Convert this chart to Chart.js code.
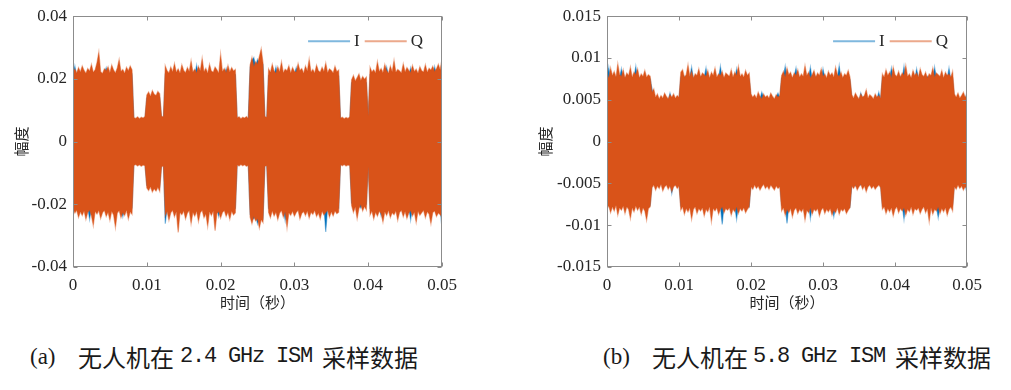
<!DOCTYPE html>
<html>
<head>
<meta charset="utf-8">
<script src="https://cdn.jsdelivr.net/npm/chart.js@4.4.0/dist/chart.umd.min.js"></script>
<style>
  body { margin: 0; background: #fff; width: 1011px; height: 390px; position: relative; overflow: hidden; }
  .box { position: absolute; top: 0; }
  .cap { position: absolute; top: 344px; height: 26px; line-height: 26px; color: #1a1a1a; white-space: nowrap; }
  .zh { font-family: "Noto Sans CJK SC"; font-size: 24px; }
  .mono { font-family: "Liberation Mono"; font-size: 22px; letter-spacing: -1.2px; }
  .par { font-family: "Liberation Serif"; font-size: 23px; }
</style>
</head>
<body>
<div class="box" style="left:0"><canvas id="chartA" width="470" height="320"></canvas></div>
<div class="box" style="left:520px"><canvas id="chartB" width="491" height="320"></canvas></div>

<span class="cap par" style="left:30px">(a)</span>
<span class="cap zh" style="left:78px">无人机在</span>
<span class="cap mono" style="left:180px">2.4 GHz ISM</span>
<span class="cap zh" style="left:322px">采样数据</span>

<span class="cap par" style="left:603px">(b)</span>
<span class="cap zh" style="left:652px">无人机在</span>
<span class="cap mono" style="left:753px">5.8 GHz ISM</span>
<span class="cap zh" style="left:895px">采样数据</span>

<script>
// spacing of the envelope readings (seconds)
const binWidth = 0.00025;

const xTicks = [0, 0.01, 0.02, 0.03, 0.04, 0.05];
const xTickLabels = ['0', '0.01', '0.02', '0.03', '0.04', '0.05'];
const yTicksA = [-0.04, -0.02, 0, 0.02, 0.04];
const yTickLabelsA = ['-0.04', '-0.02', '0', '0.02', '0.04'];
const yTicksB = [-0.015, -0.01, -0.005, 0, 0.005, 0.01, 0.015];
const yTickLabelsB = ['-0.015', '-0.01', '-0.005', '0', '0.005', '0.01', '0.015'];
const seriesNames = ['I', 'Q'];

// (a) 2.4 GHz: upper / lower envelope per bin
const qUpperA = [
  0.0224,0.0231,0.0219,0.0236,0.0222,0.0241,0.0227,0.0218,0.0233,0.0225,0.0246,0.0221,0.0229,0.0252,0.0286,0.0223,0.0217,0.0232,0.0226,0.0239,0.0220,0.0244,0.0228,0.0219,0.0235,0.0262,0.0224,0.0230,0.0218,0.0237,0.0226,0.0241,0.0229,
  0.0077,0.0074,0.0079,0.0073,0.0078,0.0075,0.0080,
  0.0149,0.0158,0.0145,0.0163,0.0151,0.0147,0.0160,0.0153,
  0.0081,0.0079,
  0.0242,0.0226,0.0219,0.0238,0.0223,0.0249,0.0221,0.0232,0.0218,0.0245,0.0227,0.0220,0.0236,0.0224,0.0258,0.0222,0.0231,0.0219,0.0240,0.0226,0.0266,0.0223,0.0234,0.0218,0.0247,0.0225,0.0221,0.0238,0.0229,0.0219,0.0279,0.0224,0.0233,0.0220,0.0243,0.0222,0.0236,0.0225,0.0230,
  0.0076,0.0079,0.0073,0.0078,0.0075,0.0080,0.0074,
  0.0244,0.0268,0.0239,0.0255,0.0247,0.0272,0.0296,0.0251,
  0.0080,0.0078,
  0.0232,0.0221,0.0247,0.0225,0.0218,0.0239,0.0223,0.0254,0.0220,0.0231,0.0226,0.0242,0.0219,0.0236,0.0224,0.0221,0.0249,0.0227,0.0233,0.0218,0.0241,0.0225,0.0263,0.0222,0.0230,0.0219,0.0244,0.0226,0.0221,0.0237,0.0224,0.0251,0.0220,0.0232,0.0227,0.0219,0.0240,0.0223,0.0228,
  0.0075,0.0078,0.0073,0.0077,0.0074,0.0079,
  0.0197,0.0211,0.0193,0.0204,0.0216,0.0195,0.0208,0.0199,0.0206,
  0.0082,
  0.0237,0.0222,0.0229,0.0219,0.0255,0.0224,0.0233,0.0220,0.0246,0.0226,0.0218,0.0241,0.0223,0.0259,0.0221,0.0230,0.0225,0.0219,0.0248,0.0222,0.0236,0.0227,0.0220,0.0243,0.0224,0.0231,0.0218,0.0239,0.0226,0.0222,0.0245,0.0221,0.0234,0.0228,0.0240,0.0223,0.0232,0.0247,0.0229,0.0264];
const qLowerA = [
  -0.0213,-0.0228,-0.0219,-0.0242,-0.0224,-0.0236,-0.0221,-0.0248,-0.0226,-0.0218,-0.0237,-0.0268,-0.0223,-0.0231,-0.0220,-0.0245,-0.0227,-0.0219,-0.0239,-0.0225,-0.0251,-0.0222,-0.0234,-0.0274,-0.0228,-0.0220,-0.0243,-0.0226,-0.0236,-0.0219,-0.0247,-0.0224,-0.0232,
  -0.0076,-0.0073,-0.0078,-0.0074,-0.0079,-0.0075,-0.0077,
  -0.0148,-0.0156,-0.0144,-0.0161,-0.0150,-0.0158,-0.0146,-0.0159,
  -0.0080,-0.0078,
  -0.0236,-0.0223,-0.0251,-0.0227,-0.0219,-0.0240,-0.0224,-0.0290,-0.0226,-0.0233,-0.0221,-0.0247,-0.0228,-0.0220,-0.0262,-0.0225,-0.0238,-0.0222,-0.0255,-0.0227,-0.0219,-0.0243,-0.0231,-0.0271,-0.0224,-0.0236,-0.0221,-0.0284,-0.0229,-0.0223,-0.0244,-0.0226,-0.0220,-0.0239,-0.0225,-0.0248,-0.0222,-0.0234,-0.0227,
  -0.0075,-0.0078,-0.0073,-0.0077,-0.0074,-0.0079,-0.0076,
  -0.0241,-0.0262,-0.0238,-0.0253,-0.0246,-0.0276,-0.0249,-0.0258,
  -0.0079,-0.0077,
  -0.0226,-0.0243,-0.0221,-0.0237,-0.0225,-0.0249,-0.0228,-0.0220,-0.0241,-0.0224,-0.0275,-0.0227,-0.0235,-0.0222,-0.0238,-0.0226,-0.0219,-0.0247,-0.0229,-0.0223,-0.0236,-0.0221,-0.0244,-0.0225,-0.0232,-0.0220,-0.0239,-0.0228,-0.0246,-0.0222,-0.0234,-0.0226,-0.0219,-0.0241,-0.0224,-0.0237,-0.0221,-0.0230,-0.0225,
  -0.0074,-0.0077,-0.0073,-0.0078,-0.0075,-0.0076,
  -0.0204,-0.0226,-0.0209,-0.0246,-0.0213,-0.0201,-0.0221,-0.0207,-0.0218,
  -0.0080,
  -0.0234,-0.0221,-0.0247,-0.0225,-0.0238,-0.0222,-0.0229,-0.0257,-0.0224,-0.0236,-0.0220,-0.0242,-0.0227,-0.0233,-0.0221,-0.0251,-0.0226,-0.0219,-0.0240,-0.0223,-0.0245,-0.0228,-0.0220,-0.0237,-0.0225,-0.0258,-0.0222,-0.0235,-0.0227,-0.0219,-0.0243,-0.0224,-0.0231,-0.0262,-0.0226,-0.0221,-0.0239,-0.0228,-0.0233,-0.0241];
const iUpperA = [
  0.0212,0.0241,0.0208,0.0216,0.0210,0.0219,0.0213,0.0207,0.0215,0.0211,0.0218,0.0209,0.0214,0.0217,0.0210,0.0206,0.0213,0.0219,0.0236,0.0211,0.0216,0.0208,0.0214,0.0210,0.0217,0.0212,0.0209,0.0215,0.0211,0.0218,0.0213,0.0208,0.0214,
  0.0070,0.0072,0.0068,0.0071,0.0069,0.0073,0.0070,
  0.0139,0.0145,0.0137,0.0142,0.0140,0.0138,0.0144,0.0141,
  0.0072,0.0071,
  0.0214,0.0209,0.0217,0.0211,0.0215,0.0208,0.0213,0.0216,0.0210,0.0212,0.0207,0.0215,0.0211,0.0218,0.0209,0.0214,0.0212,0.0244,0.0210,0.0216,0.0208,0.0213,0.0211,0.0215,0.0209,0.0217,0.0212,0.0210,0.0214,0.0208,0.0216,0.0211,0.0213,0.0233,0.0210,0.0215,0.0209,0.0212,0.0214,
  0.0069,0.0071,0.0068,0.0072,0.0070,0.0069,0.0071,
  0.0236,0.0259,0.0268,0.0241,0.0262,0.0250,0.0255,0.0246,
  0.0071,0.0070,
  0.0211,0.0215,0.0209,0.0213,0.0238,0.0210,0.0216,0.0208,0.0214,0.0212,0.0217,0.0209,0.0213,0.0211,0.0215,0.0236,0.0210,0.0214,0.0208,0.0216,0.0212,0.0209,0.0215,0.0211,0.0213,0.0210,0.0217,0.0208,0.0214,0.0212,0.0216,0.0209,0.0213,0.0211,0.0215,0.0210,0.0212,0.0214,0.0209,
  0.0069,0.0071,0.0068,0.0070,0.0072,0.0069,
  0.0188,0.0194,0.0186,0.0191,0.0189,0.0187,0.0193,0.0190,0.0188,
  0.0073,
  0.0213,0.0210,0.0216,0.0209,0.0214,0.0211,0.0215,0.0208,0.0213,0.0238,0.0210,0.0216,0.0212,0.0209,0.0215,0.0211,0.0214,0.0208,0.0213,0.0210,0.0217,0.0212,0.0235,0.0209,0.0214,0.0211,0.0216,0.0210,0.0213,0.0208,0.0215,0.0212,0.0209,0.0214,0.0211,0.0239,0.0213,0.0210,0.0216,0.0226];
const iLowerA = [
  -0.0206,-0.0213,-0.0209,-0.0215,-0.0211,-0.0217,-0.0208,-0.0214,-0.0210,-0.0248,-0.0212,-0.0216,-0.0209,-0.0213,-0.0207,-0.0215,-0.0211,-0.0218,-0.0210,-0.0214,-0.0208,-0.0216,-0.0212,-0.0209,-0.0215,-0.0211,-0.0213,-0.0240,-0.0210,-0.0216,-0.0209,-0.0214,-0.0212,
  -0.0069,-0.0071,-0.0068,-0.0070,-0.0072,-0.0069,-0.0071,
  -0.0140,-0.0143,-0.0138,-0.0145,-0.0139,-0.0142,-0.0137,-0.0144,
  -0.0071,-0.0070,
  -0.0262,-0.0212,-0.0216,-0.0209,-0.0214,-0.0211,-0.0215,-0.0208,-0.0213,-0.0217,-0.0210,-0.0214,-0.0209,-0.0216,-0.0212,-0.0210,-0.0215,-0.0208,-0.0213,-0.0211,-0.0216,-0.0209,-0.0214,-0.0212,-0.0217,-0.0210,-0.0213,-0.0208,-0.0215,-0.0239,-0.0211,-0.0214,-0.0209,-0.0216,-0.0212,-0.0210,-0.0215,-0.0211,-0.0213,
  -0.0068,-0.0071,-0.0069,-0.0072,-0.0070,-0.0068,-0.0071,
  -0.0232,-0.0240,-0.0247,-0.0236,-0.0262,-0.0241,-0.0238,-0.0245,
  -0.0070,-0.0071,
  -0.0213,-0.0209,-0.0216,-0.0211,-0.0214,-0.0208,-0.0215,-0.0210,-0.0213,-0.0252,-0.0211,-0.0216,-0.0209,-0.0214,-0.0212,-0.0217,-0.0210,-0.0213,-0.0208,-0.0215,-0.0211,-0.0214,-0.0209,-0.0216,-0.0212,-0.0212,-0.0210,-0.0215,-0.0211,-0.0213,-0.0208,-0.0288,-0.0212,-0.0209,-0.0214,-0.0211,-0.0215,-0.0210,-0.0213,
  -0.0068,-0.0070,-0.0072,-0.0069,-0.0071,-0.0068,
  -0.0196,-0.0203,-0.0199,-0.0207,-0.0201,-0.0212,-0.0198,-0.0205,-0.0200,
  -0.0071,
  -0.0212,-0.0209,-0.0215,-0.0211,-0.0214,-0.0208,-0.0237,-0.0210,-0.0213,-0.0216,-0.0209,-0.0214,-0.0211,-0.0215,-0.0208,-0.0213,-0.0210,-0.0216,-0.0212,-0.0209,-0.0214,-0.0211,-0.0250,-0.0208,-0.0215,-0.0212,-0.0210,-0.0214,-0.0211,-0.0216,-0.0209,-0.0213,-0.0210,-0.0215,-0.0212,-0.0209,-0.0214,-0.0211,-0.0213,-0.0279];

// (b) 5.8 GHz
const qUpperB = [
  0.0081,0.0076,0.0088,0.0079,0.0084,0.0077,0.0093,0.0080,0.0078,0.0086,0.0076,0.0082,0.0079,0.0089,0.0077,0.0083,0.0080,0.0087,0.0076,0.0081,0.0078,0.0085,0.0077,0.0080,0.0078,
  0.0059,0.0063,0.0053,0.0057,0.0051,0.0055,0.0052,0.0058,0.0054,0.0051,0.0056,0.0053,0.0057,0.0052,0.0055,0.0053,
  0.0083,0.0086,0.0077,0.0080,0.0092,0.0078,0.0084,0.0076,0.0081,0.0079,0.0087,0.0077,0.0082,0.0080,0.0078,0.0085,0.0076,0.0083,0.0079,0.0088,0.0077,0.0081,0.0079,0.0084,0.0076,0.0082,0.0080,0.0078,0.0086,0.0077,0.0083,0.0079,0.0090,0.0078,0.0081,0.0077,0.0085,0.0079,0.0082,
  0.0057,0.0053,0.0056,0.0052,0.0059,0.0054,0.0051,0.0057,0.0053,0.0055,0.0052,0.0058,0.0054,0.0051,0.0056,0.0053,0.0055,
  0.0079,0.0084,0.0077,0.0088,0.0080,0.0083,0.0076,0.0082,0.0079,0.0086,0.0077,0.0081,0.0078,0.0091,0.0079,0.0083,0.0076,0.0080,0.0085,0.0077,0.0082,0.0079,0.0087,0.0078,0.0081,0.0076,0.0084,0.0079,0.0082,0.0077,0.0089,0.0080,0.0078,0.0083,0.0076,0.0081,0.0079,0.0085,0.0077,
  0.0056,0.0052,0.0058,0.0054,0.0051,0.0057,0.0053,0.0055,0.0062,0.0052,0.0056,0.0054,0.0051,0.0057,0.0053,0.0055,0.0052,
  0.0081,0.0077,0.0086,0.0079,0.0083,0.0076,0.0089,0.0080,0.0078,0.0084,0.0077,0.0082,0.0079,0.0091,0.0078,0.0081,0.0076,0.0085,0.0079,0.0082,0.0077,0.0087,0.0080,0.0078,0.0083,0.0076,0.0081,0.0079,0.0088,0.0077,0.0082,0.0080,0.0078,0.0085,0.0076,0.0083,0.0079,0.0081,0.0077,0.0084,
  0.0057,0.0053,0.0058,0.0052,0.0055,0.0059,0.0053,0.0056];
const qLowerB = [
  -0.0080,-0.0077,-0.0085,-0.0078,-0.0083,-0.0076,-0.0088,-0.0079,-0.0082,-0.0077,-0.0086,-0.0078,-0.0081,-0.0092,-0.0079,-0.0084,-0.0077,-0.0082,-0.0078,-0.0087,-0.0079,-0.0083,-0.0094,-0.0080,-0.0078,
  -0.0055,-0.0052,-0.0058,-0.0053,-0.0056,-0.0051,-0.0059,-0.0054,-0.0052,-0.0057,-0.0053,-0.0060,-0.0054,-0.0052,-0.0056,-0.0053,
  -0.0082,-0.0078,-0.0087,-0.0080,-0.0084,-0.0079,-0.0093,-0.0081,-0.0078,-0.0086,-0.0080,-0.0083,-0.0079,-0.0089,-0.0081,-0.0084,-0.0078,-0.0096,-0.0080,-0.0083,-0.0079,-0.0087,-0.0081,-0.0078,-0.0085,-0.0080,-0.0082,-0.0079,-0.0088,-0.0081,-0.0084,-0.0078,-0.0086,-0.0080,-0.0083,-0.0079,-0.0085,-0.0081,-0.0078,
  -0.0054,-0.0057,-0.0052,-0.0056,-0.0053,-0.0058,-0.0054,-0.0051,-0.0056,-0.0053,-0.0057,-0.0052,-0.0055,-0.0058,-0.0053,-0.0056,-0.0054,
  -0.0083,-0.0079,-0.0088,-0.0081,-0.0085,-0.0080,-0.0090,-0.0082,-0.0079,-0.0086,-0.0081,-0.0084,-0.0080,-0.0094,-0.0082,-0.0085,-0.0079,-0.0087,-0.0081,-0.0083,-0.0080,-0.0089,-0.0082,-0.0079,-0.0086,-0.0081,-0.0084,-0.0080,-0.0088,-0.0082,-0.0085,-0.0079,-0.0087,-0.0081,-0.0083,-0.0080,-0.0086,-0.0082,-0.0079,
  -0.0053,-0.0056,-0.0052,-0.0058,-0.0054,-0.0051,-0.0057,-0.0053,-0.0060,-0.0054,-0.0052,-0.0056,-0.0053,-0.0057,-0.0054,-0.0052,-0.0055,
  -0.0081,-0.0078,-0.0086,-0.0080,-0.0084,-0.0079,-0.0089,-0.0081,-0.0078,-0.0085,-0.0080,-0.0083,-0.0079,-0.0088,-0.0081,-0.0084,-0.0078,-0.0087,-0.0080,-0.0082,-0.0079,-0.0086,-0.0081,-0.0078,-0.0085,-0.0080,-0.0096,-0.0079,-0.0087,-0.0081,-0.0083,-0.0078,-0.0086,-0.0080,-0.0084,-0.0079,-0.0088,-0.0081,-0.0078,-0.0083,
  -0.0054,-0.0057,-0.0052,-0.0056,-0.0053,-0.0058,-0.0054,-0.0056];
const iUpperB = [
  0.0076,0.0089,0.0074,0.0077,0.0075,0.0078,0.0074,0.0076,0.0087,0.0075,0.0077,0.0074,0.0078,0.0076,0.0075,0.0077,0.0090,0.0074,0.0076,0.0078,0.0075,0.0077,0.0074,0.0076,0.0075,
  0.0063,0.0052,0.0050,0.0053,0.0049,0.0052,0.0050,0.0054,0.0051,0.0049,0.0058,0.0050,0.0053,0.0051,0.0052,0.0050,
  0.0077,0.0075,0.0078,0.0074,0.0076,0.0077,0.0089,0.0075,0.0077,0.0074,0.0076,0.0078,0.0075,0.0077,0.0088,0.0074,0.0076,0.0075,0.0077,0.0078,0.0074,0.0076,0.0090,0.0075,0.0077,0.0074,0.0076,0.0078,0.0075,0.0077,0.0074,0.0087,0.0076,0.0075,0.0077,0.0074,0.0076,0.0078,0.0075,
  0.0053,0.0050,0.0052,0.0049,0.0054,0.0051,0.0059,0.0053,0.0050,0.0052,0.0049,0.0054,0.0051,0.0050,0.0053,0.0058,0.0052,
  0.0076,0.0078,0.0090,0.0075,0.0077,0.0074,0.0076,0.0078,0.0088,0.0075,0.0077,0.0074,0.0076,0.0078,0.0075,0.0077,0.0089,0.0074,0.0076,0.0078,0.0075,0.0077,0.0074,0.0087,0.0076,0.0075,0.0077,0.0078,0.0074,0.0076,0.0075,0.0077,0.0091,0.0074,0.0076,0.0078,0.0075,0.0077,0.0074,
  0.0052,0.0050,0.0053,0.0051,0.0049,0.0058,0.0052,0.0050,0.0053,0.0049,0.0052,0.0050,0.0049,0.0053,0.0051,0.0059,0.0050,
  0.0077,0.0075,0.0078,0.0074,0.0076,0.0088,0.0075,0.0077,0.0074,0.0076,0.0078,0.0075,0.0090,0.0074,0.0076,0.0077,0.0075,0.0078,0.0074,0.0087,0.0076,0.0075,0.0077,0.0074,0.0076,0.0078,0.0075,0.0077,0.0074,0.0089,0.0076,0.0075,0.0077,0.0074,0.0076,0.0078,0.0075,0.0088,0.0074,0.0076,
  0.0052,0.0050,0.0053,0.0049,0.0051,0.0054,0.0050,0.0060];
const iLowerB = [
  -0.0076,-0.0074,-0.0077,-0.0075,-0.0078,-0.0074,-0.0076,-0.0075,-0.0077,-0.0074,-0.0076,-0.0078,-0.0075,-0.0077,-0.0074,-0.0076,-0.0075,-0.0077,-0.0074,-0.0076,-0.0078,-0.0075,-0.0077,-0.0074,-0.0076,
  -0.0051,-0.0049,-0.0053,-0.0050,-0.0052,-0.0049,-0.0051,-0.0053,-0.0050,-0.0052,-0.0049,-0.0062,-0.0050,-0.0052,-0.0049,-0.0051,
  -0.0077,-0.0075,-0.0078,-0.0076,-0.0077,-0.0075,-0.0078,-0.0076,-0.0077,-0.0075,-0.0078,-0.0076,-0.0077,-0.0075,-0.0078,-0.0076,-0.0077,-0.0075,-0.0078,-0.0076,-0.0077,-0.0075,-0.0078,-0.0099,-0.0077,-0.0075,-0.0078,-0.0076,-0.0077,-0.0075,-0.0078,-0.0093,-0.0077,-0.0075,-0.0078,-0.0076,-0.0077,-0.0075,-0.0078,
  -0.0050,-0.0052,-0.0049,-0.0053,-0.0051,-0.0050,-0.0052,-0.0049,-0.0051,-0.0053,-0.0050,-0.0052,-0.0049,-0.0051,-0.0050,-0.0052,-0.0049,
  -0.0076,-0.0078,-0.0075,-0.0098,-0.0077,-0.0076,-0.0078,-0.0075,-0.0077,-0.0076,-0.0078,-0.0075,-0.0077,-0.0076,-0.0078,-0.0075,-0.0092,-0.0076,-0.0078,-0.0075,-0.0077,-0.0076,-0.0078,-0.0075,-0.0077,-0.0076,-0.0078,-0.0075,-0.0077,-0.0090,-0.0078,-0.0075,-0.0077,-0.0076,-0.0078,-0.0075,-0.0077,-0.0076,-0.0078,
  -0.0052,-0.0050,-0.0053,-0.0049,-0.0051,-0.0052,-0.0050,-0.0049,-0.0053,-0.0051,-0.0050,-0.0052,-0.0049,-0.0051,-0.0053,-0.0050,-0.0052,
  -0.0077,-0.0075,-0.0078,-0.0076,-0.0077,-0.0075,-0.0078,-0.0076,-0.0077,-0.0075,-0.0078,-0.0076,-0.0093,-0.0075,-0.0078,-0.0076,-0.0077,-0.0075,-0.0078,-0.0076,-0.0077,-0.0075,-0.0078,-0.0076,-0.0077,-0.0075,-0.0078,-0.0076,-0.0077,-0.0075,-0.0078,-0.0091,-0.0077,-0.0075,-0.0078,-0.0076,-0.0077,-0.0075,-0.0078,-0.0076,
  -0.0050,-0.0052,-0.0049,-0.0053,-0.0051,-0.0050,-0.0052,-0.0062];

const colors = { I: '#0072BD', Q: '#D95319' };
const edgeColors = { I: 'rgba(0,114,189,0.45)', Q: 'rgba(217,83,25,0.45)' };
const legendColors = { I: 'rgba(0,114,189,0.5)', Q: 'rgba(217,83,25,0.5)' };
const tickFont = { family: "'Liberation Serif', serif", size: 17 };
const zhFont = { family: "'Noto Sans CJK SC', sans-serif", size: 15 };

function toPoints(values) {
  return values.map((v, i) => ({ x: i * binWidth, y: v }));
}

// MATLAB-like box with inward ticks, plus the legend inside the axes
const framePlugin = {
  id: 'frame',
  afterDraw(chart) {
    const { ctx, chartArea: a, scales } = chart;
    const L = Math.round(a.left) + 0.5, R = Math.round(a.right) - 0.5;
    const T = Math.round(a.top) + 0.5, B = Math.round(a.bottom) - 0.5;
    ctx.save();
    ctx.strokeStyle = '#8c8c8c';
    ctx.lineWidth = 1;
    ctx.strokeRect(L, T, R - L, B - T);
    ctx.beginPath();
    scales.x.ticks.forEach(t => {
      const px = Math.round(scales.x.getPixelForValue(t.value)) + 0.5;
      ctx.moveTo(px, B); ctx.lineTo(px, B - 4);
      ctx.moveTo(px, T); ctx.lineTo(px, T + 4);
    });
    scales.y.ticks.forEach(t => {
      const py = Math.round(scales.y.getPixelForValue(t.value)) + 0.5;
      ctx.moveTo(L, py); ctx.lineTo(L + 4, py);
      ctx.moveTo(R, py); ctx.lineTo(R - 4, py);
    });
    ctx.stroke();

    // legend, laid out right to left
    ctx.font = "17px 'Liberation Serif', serif";
    ctx.textBaseline = 'middle';
    ctx.fillStyle = '#262626';
    ctx.lineWidth = 2;
    const ly = a.top + 25;
    let x = a.right - 19;
    [...seriesNames].reverse().forEach(name => {
      const w = ctx.measureText(name).width;
      ctx.fillText(name, x - w, ly);
      x -= w + 4;
      ctx.strokeStyle = legendColors[name];
      ctx.beginPath();
      ctx.moveTo(x - 42, ly); ctx.lineTo(x, ly);
      ctx.stroke();
      x -= 42 + 5;
    });
    ctx.restore();
  }
};

function makeChart(id, qUp, qLo, iUp, iLo, yTicks, yLabels, axisWidth, rightPad, titlePad) {
  const band = (vals, name, fill) => ({
    label: name,
    data: toPoints(vals),
    borderColor: edgeColors[name],
    backgroundColor: colors[name],
    borderWidth: 1.2,
    pointRadius: 0,
    tension: 0,
    fill: fill
  });
  return new Chart(document.getElementById(id), {
    type: 'line',
    data: {
      datasets: [
        band(qUp, 'Q', '+1'),
        band(qLo, 'Q', false),
        band(iUp, 'I', '+1'),
        band(iLo, 'I', false)
      ]
    },
    options: {
      responsive: false,
      animation: false,
      layout: { padding: { top: 16, right: rightPad, left: 0, bottom: 0 } },
      plugins: { legend: { display: false }, tooltip: { enabled: false } },
      scales: {
        x: {
          type: 'linear',
          min: xTicks[0],
          max: xTicks[xTicks.length - 1],
          afterBuildTicks: s => { s.ticks = xTicks.map(v => ({ value: v })); },
          afterFit: s => { s.height = 53; },
          grid: { display: false, drawTicks: false },
          border: { display: false },
          ticks: {
            padding: 8,
            color: '#262626',
            font: tickFont,
            maxRotation: 0,
            autoSkip: false,
            callback: (v, i) => xTickLabels[i]
          },
          title: { display: true, text: '时间（秒）', color: '#262626', font: zhFont, padding: { top: 0, bottom: 9 } }
        },
        y: {
          min: yTicks[0],
          max: yTicks[yTicks.length - 1],
          afterBuildTicks: s => { s.ticks = yTicks.map(v => ({ value: v })); },
          afterFit: s => { s.width = axisWidth; },
          grid: { display: false, drawTicks: false },
          border: { display: false },
          ticks: {
            padding: 6,
            color: '#262626',
            font: tickFont,
            autoSkip: false,
            callback: (v, i) => yLabels[i]
          },
          title: { display: true, text: '幅度', color: '#262626', font: zhFont, padding: { top: titlePad, bottom: 0 } }
        }
      }
    },
    plugins: [framePlugin]
  });
}

makeChart('chartA', qUpperA, qLowerA, iUpperA, iLowerA, yTicksA, yTickLabelsA, 73, 28, 12);
makeChart('chartB', qUpperB, qLowerB, iUpperB, iLowerB, yTicksB, yTickLabelsB, 87, 44, 16);
</script>
</body>
</html>
